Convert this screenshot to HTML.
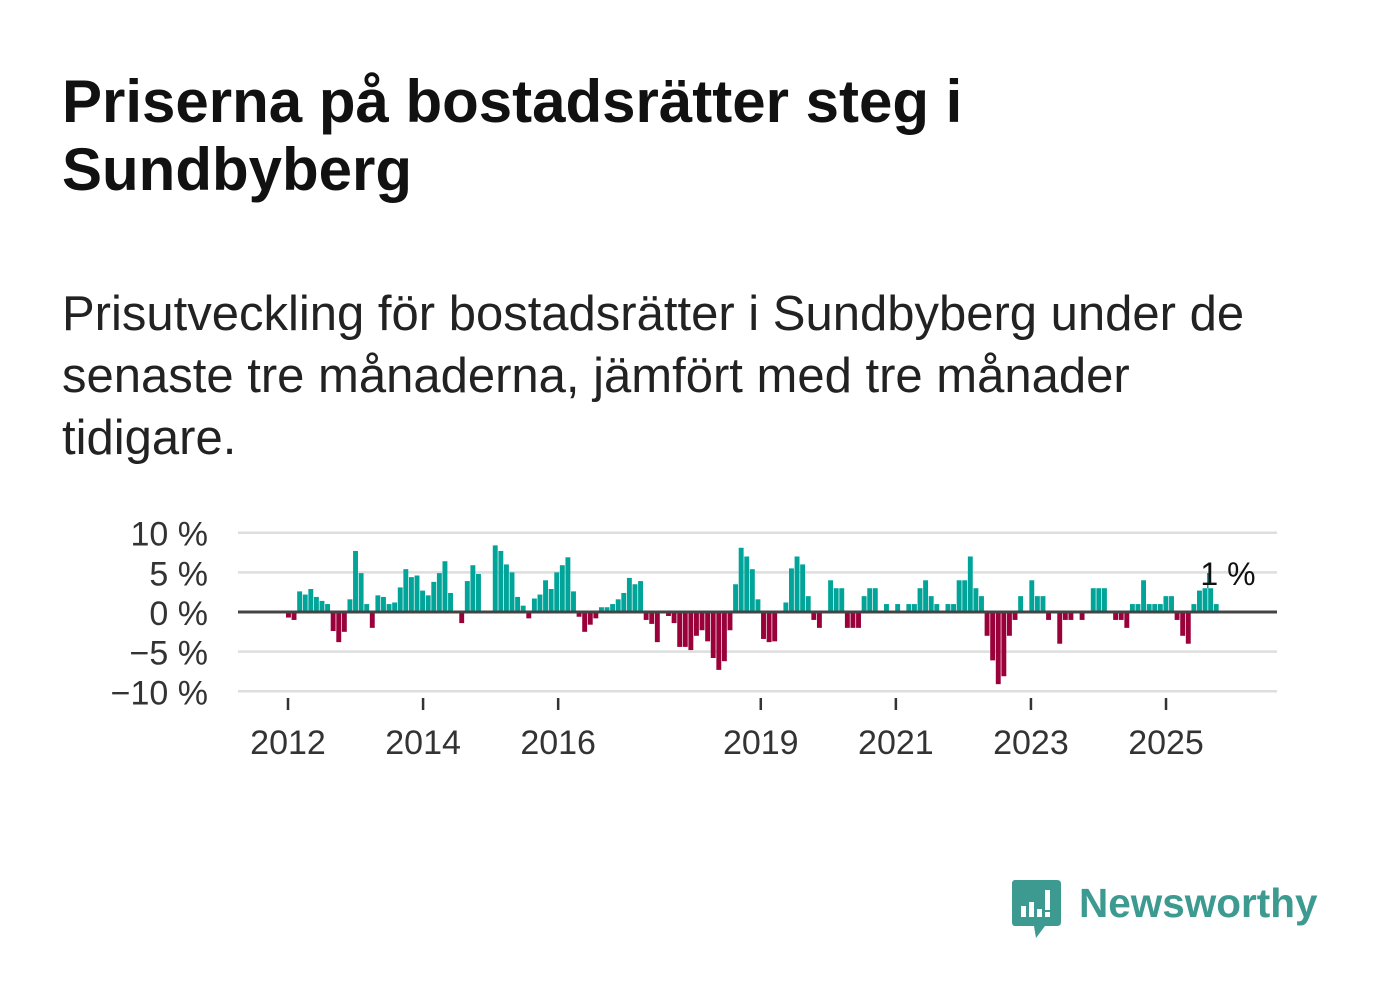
<!DOCTYPE html>
<html><head><meta charset="utf-8">
<style>
html,body{margin:0;padding:0;background:#fff;}
body{width:1382px;height:999px;position:relative;overflow:hidden;font-family:"Liberation Sans","DejaVu Sans",sans-serif;color:#111;}
#title{position:absolute;left:62px;top:68px;margin:0;font-size:60px;font-weight:bold;line-height:68px;width:1300px;white-space:nowrap;}
#subtitle{position:absolute;left:62px;top:283px;margin:0;font-size:49px;line-height:62px;width:1300px;color:#222;white-space:nowrap;}
svg{position:absolute;left:0;top:0;}
</style></head><body>
<h1 id="title">Priserna på bostadsrätter steg i<br>Sundbyberg</h1>
<p id="subtitle">Prisutveckling för bostadsrätter i Sundbyberg under de<br>senaste tre månaderna, jämfört med tre månader<br>tidigare.</p>
<svg id="chart" width="1382" height="999"></svg>
<script>
const values = [-0.7,-1.0,2.6,2.2,2.9,1.9,1.4,1.0,-2.4,-3.8,-2.5,1.6,7.7,4.9,1.0,-2.0,2.1,1.9,1.0,1.2,3.1,5.4,4.4,4.6,2.7,2.1,3.8,4.9,6.4,2.4,0,-1.4,3.9,5.9,4.8,0,0,8.4,7.7,6.0,5.0,1.9,0.8,-0.8,1.7,2.2,4.0,2.9,5.0,5.9,6.9,2.6,-0.6,-2.5,-1.6,-0.8,
0.6,0.6,1.0,1.6,2.4,4.3,3.5,3.9,-1.0,-1.5,-3.8,0,-0.5,-1.4,-4.4,-4.4,-4.8,-3.0,-2.3,-3.7,-5.8,-7.3,-6.2,-2.3,3.5,8.1,7.0,5.4,1.6,-3.4,-3.8,-3.7,0,1.2,5.5,7.0,6.0,2.0,-1.0,-2.0,0,4.0,3.0,3.0,-2.0,-2.0,-2.0,2.0,3.0,3.0,0,1.0,0,1.0,0,1.0,1.0,3.0,4.0,2.0,1.0,0,1.0,
1.0,4.0,4.0,7.0,3.0,2.0,-3.0,-6.1,-9.1,-8.1,-3.0,-1.0,2.0,0,4.0,2.0,2.0,-1.0,0,-4.0,-1.0,-1.0,0,-1.0,0,3.0,3.0,3.0,0,-1.0,-1.0,-2.0,1.0,1.0,4.0,1.0,1.0,1.0,2.0,2.0,-1.0,-3.0,-4.0,1.0,2.7,3.0,3.0,1.0];
const yTicks = [10,5,0,-5,-10];
const yTickLabels = ["10 %","5 %","0 %","\u22125 %","\u221210 %"];
const xYears = [2012,2014,2016,2019,2021,2023,2025];
const lastLabel = "1 %";

const NS="http://www.w3.org/2000/svg";
const svg=document.getElementById('chart');
const X0=238,X1=1277,Y0=612,PPU=7.93;
const startX=286,step=5.589,barW=4.9;
const y=v=>Y0-v*PPU;
const xBar=i=>startX+i*step;
const xYear=yr=>288+(yr-2012)*67.54;
function mk(tag,attrs){const e=document.createElementNS(NS,tag);for(const k in attrs)e.setAttribute(k,attrs[k]);svg.appendChild(e);return e;}
yTicks.forEach((t,i)=>{
  if(t!==0){const g=mk('line',{x1:X0,x2:X1,y1:y(t),y2:y(t),stroke:'#dedede','stroke-width':2.5});
  
  }
  const l=mk('text',{x:208,y:y(t)+13,'text-anchor':'end','font-size':34,fill:'#333','font-family':'Liberation Sans, sans-serif'});
  l.textContent=yTickLabels[i];
  
  
});
values.forEach((v,i)=>{
  if(v===0)return;
  const r=mk('rect',{x:xBar(i),width:barW,y:Math.min(y(v),Y0),height:Math.abs(v)*PPU,fill:v>0?'#00a499':'#9a0039'});
  
  
});
const z=mk('line',{x1:X0,x2:X1,y1:Y0,y2:Y0,stroke:'#444','stroke-width':3});


xYears.forEach(yr=>{
  const t=mk('line',{x1:xYear(yr),x2:xYear(yr),y1:698,y2:710,stroke:'#333','stroke-width':2.5});
  
  
  const l=mk('text',{x:xYear(yr),y:754,'text-anchor':'middle','font-size':34,fill:'#333','font-family':'Liberation Sans, sans-serif'});
  l.textContent=yr;
  
  
});
const li=values.length-1;
const lx=xBar(li)-6;
const ld=mk('line',{x1:lx,x2:lx,y1:573,y2:y(values[li-1]),stroke:'#00a499','stroke-width':1.5});


const al=mk('text',{x:1228,y:585,'text-anchor':'middle','font-size':32,fill:'#111','font-family':'Liberation Sans, sans-serif'});
al.textContent=lastLabel;


</script>
<div style="position:absolute;left:1012px;top:880px;">
<svg width="50" height="60" style="position:relative">
<path d="M3 0 H45 Q49 0 49 4 V42 Q49 46 45 46 H33 L24 58 L22 46 H3 Q0 46 0 42 V4 Q0 0 3 0Z" fill="#3d9a90"/>
<rect x="9" y="26" width="5" height="11" fill="#fff"/><rect x="17" y="22" width="5" height="15" fill="#fff"/><rect x="25" y="29" width="5" height="8" fill="#fff"/><rect x="33" y="10" width="5" height="20" fill="#fff"/><rect x="33" y="32" width="5" height="5" fill="#fff"/>
</svg>
<span style="position:absolute;left:67px;top:0px;font-size:40.5px;font-weight:bold;color:#3d9a90;white-space:nowrap;">Newsworthy</span>
</div>
</body></html>
